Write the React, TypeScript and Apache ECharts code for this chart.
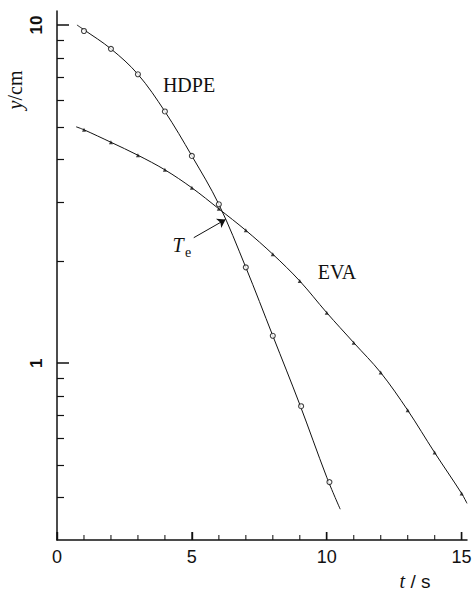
import React, { useEffect, useRef } from "react";
import * as echarts from "echarts";

// Measured points (t in s, y in cm)
const HDPE_T = [1, 2, 3, 4, 5, 6, 7, 8, 9.05, 10.1];
const HDPE_Y = [9.6, 8.5, 7.15, 5.55, 4.1, 2.95, 1.92, 1.205, 0.746, 0.445];
const EVA_T = [1, 2, 3, 4, 5, 6, 7, 8, 9, 10, 11, 12, 13, 14, 15];
const EVA_Y = [4.9, 4.5, 4.12, 3.73, 3.3, 2.86, 2.47, 2.1, 1.75, 1.41, 1.15, 0.938, 0.726, 0.544, 0.412];

// Fitted curves drawn through the measurements
const HDPE_CURVE_T = [0.74, 1, 2, 3, 4, 5, 6, 7, 8, 9, 10, 10.5];
const HDPE_CURVE_Y = [10.0, 9.68, 8.5, 7.15, 5.55, 4.1, 2.95, 1.92, 1.205, 0.755, 0.46, 0.37];
const EVA_CURVE_T = [0.71, 1, 2, 3, 4, 5, 6, 7, 8, 9, 10, 11, 12, 13, 14, 15, 15.2];
const EVA_CURVE_Y = [5.0, 4.9, 4.5, 4.12, 3.73, 3.3, 2.86, 2.47, 2.1, 1.75, 1.41, 1.15, 0.938, 0.726, 0.544, 0.412, 0.385];

// Axis ticks
const X_MAJOR = [0, 5, 10, 15];
const X_MINOR = [1, 2, 3, 4, 6, 7, 8, 9, 11, 12, 13, 14];
const Y_MAJOR = [1, 10];
const Y_MINOR = [0.4, 0.5, 0.6, 0.7, 0.8, 0.9, 2, 3, 4, 5, 6, 7, 8, 9];
const Y_MIN = 0.3;
const Y_MAX = 11;

// Arrow pointing at the crossing time T_e
const TE_ARROW = [
  [5.07, 2.35],
  [6.25, 2.66],
];

const INK = "#111";
const SERIF = "'Liberation Serif', 'DejaVu Serif', serif";
const SANS = "'Liberation Sans', 'DejaVu Sans', sans-serif";

const zip = (xs: number[], ys: number[]) => xs.map((x, i) => [x, ys[i]]);

// Upward tick marks sitting on the bottom axis line
const tickSeries = (values: number[], len: number, w: number) => ({
  type: "scatter",
  silent: true,
  clip: false,
  data: values.map((t) => [t, Y_MIN]),
  symbol: "rect",
  symbolSize: [w, len],
  symbolOffset: [0, -len / 2],
  itemStyle: { color: INK },
  z: 5,
});

export default function App() {
  const ref = useRef<HTMLDivElement>(null);

  useEffect(() => {
    if (!ref.current) return;
    const chart = echarts.init(ref.current, null, { renderer: "svg" });

    const yCommon = {
      type: "log" as const,
      logBase: 10,
      min: Y_MIN,
      max: Y_MAX,
      position: "left" as const,
      splitLine: { show: false },
    };

    chart.setOption({
      animation: false,
      backgroundColor: "#fff",
      grid: { left: 57, right: 8, top: 11, bottom: 51, containLabel: false },
      xAxis: {
        type: "value",
        min: 0,
        max: 15.2,
        position: "bottom",
        splitLine: { show: false },
        axisLine: { show: true, onZero: false, lineStyle: { color: INK, width: 1.5 } },
        axisTick: {
          show: true,
          inside: true,
          length: 8,
          customValues: X_MAJOR,
          lineStyle: { color: INK, width: 1.4 },
        },
        axisLabel: {
          show: true,
          customValues: X_MAJOR,
          margin: 8,
          fontSize: 18,
          fontFamily: SANS,
          color: INK,
        },
      },
      yAxis: [
        {
          ...yCommon,
          axisLine: { show: true, onZero: false, lineStyle: { color: INK, width: 1.5 } },
          axisTick: {
            show: true,
            inside: true,
            length: 12,
            customValues: Y_MAJOR,
            lineStyle: { color: INK, width: 1.5 },
          },
          axisLabel: {
            show: true,
            customValues: Y_MAJOR,
            rotate: 90,
            margin: 12,
            fontSize: 17,
            fontWeight: "bold",
            fontFamily: SANS,
            color: INK,
          },
        },
        {
          ...yCommon,
          axisLine: { show: false, onZero: false },
          axisTick: {
            show: true,
            inside: true,
            length: 7,
            customValues: Y_MINOR,
            lineStyle: { color: INK, width: 1.2 },
          },
          axisLabel: { show: false },
        },
      ],
      series: [
        tickSeries(X_MAJOR, 8, 1.4),
        tickSeries(X_MINOR, 5, 1.3),
        {
          name: "HDPE fit",
          type: "line",
          data: zip(HDPE_CURVE_T, HDPE_CURVE_Y),
          smooth: 0.35,
          showSymbol: false,
          symbol: "none",
          lineStyle: { color: INK, width: 1 },
          z: 2,
        },
        {
          name: "EVA fit",
          type: "line",
          data: zip(EVA_CURVE_T, EVA_CURVE_Y),
          smooth: 0.35,
          showSymbol: false,
          symbol: "none",
          lineStyle: { color: INK, width: 1 },
          z: 2,
        },
        {
          name: "HDPE",
          type: "scatter",
          data: zip(HDPE_T, HDPE_Y),
          symbol: "circle",
          symbolSize: 5,
          itemStyle: { color: "#fff", borderColor: INK, borderWidth: 1.1 },
          z: 4,
        },
        {
          name: "EVA",
          type: "scatter",
          data: zip(EVA_T, EVA_Y),
          symbol: "triangle",
          symbolSize: 4,
          itemStyle: { color: INK },
          z: 4,
          markLine: {
            silent: true,
            symbol: ["none", "arrow"],
            symbolSize: 8,
            label: { show: false },
            lineStyle: { color: INK, width: 1, type: "solid" },
            data: [
              [
                { coord: TE_ARROW[0] },
                { coord: TE_ARROW[1] },
              ],
            ],
          },
        },
      ],
      graphic: [
        {
          type: "text",
          x: 15,
          y: 90,
          rotation: Math.PI / 2,
          style: {
            text: "{i|y}/cm",
            rich: { i: { fontStyle: "italic", fontFamily: SERIF, fontSize: 20, fill: INK } },
            fontFamily: SERIF,
            fontSize: 20,
            fill: INK,
            align: "center",
            verticalAlign: "middle",
          },
        },
        {
          type: "text",
          x: 415,
          y: 581,
          style: {
            text: "{i|t} / s",
            rich: { i: { fontStyle: "italic", fontFamily: SERIF, fontSize: 20, fill: INK } },
            fontFamily: SANS,
            fontSize: 19,
            fill: INK,
            align: "center",
            verticalAlign: "middle",
          },
        },
        {
          type: "text",
          x: 189,
          y: 85,
          style: {
            text: "HDPE",
            fontFamily: SERIF,
            fontSize: 20,
            fill: INK,
            align: "center",
            verticalAlign: "middle",
          },
        },
        {
          type: "text",
          x: 337,
          y: 272,
          style: {
            text: "EVA",
            fontFamily: SERIF,
            fontSize: 20,
            fill: INK,
            align: "center",
            verticalAlign: "middle",
          },
        },
        {
          type: "text",
          x: 178,
          y: 245,
          style: {
            text: "T",
            fontFamily: SERIF,
            fontStyle: "italic",
            fontSize: 20,
            fill: INK,
            align: "center",
            verticalAlign: "middle",
          },
        },
        {
          type: "text",
          x: 188,
          y: 252,
          style: {
            text: "e",
            fontFamily: SERIF,
            fontSize: 14,
            fill: INK,
            align: "center",
            verticalAlign: "middle",
          },
        },
      ],
    });

    return () => chart.dispose();
  }, []);

  return (
    <div
      ref={ref}
      style={{ position: "fixed", left: 0, top: 0, width: 475, height: 591, background: "#fff" }}
    />
  );
}
